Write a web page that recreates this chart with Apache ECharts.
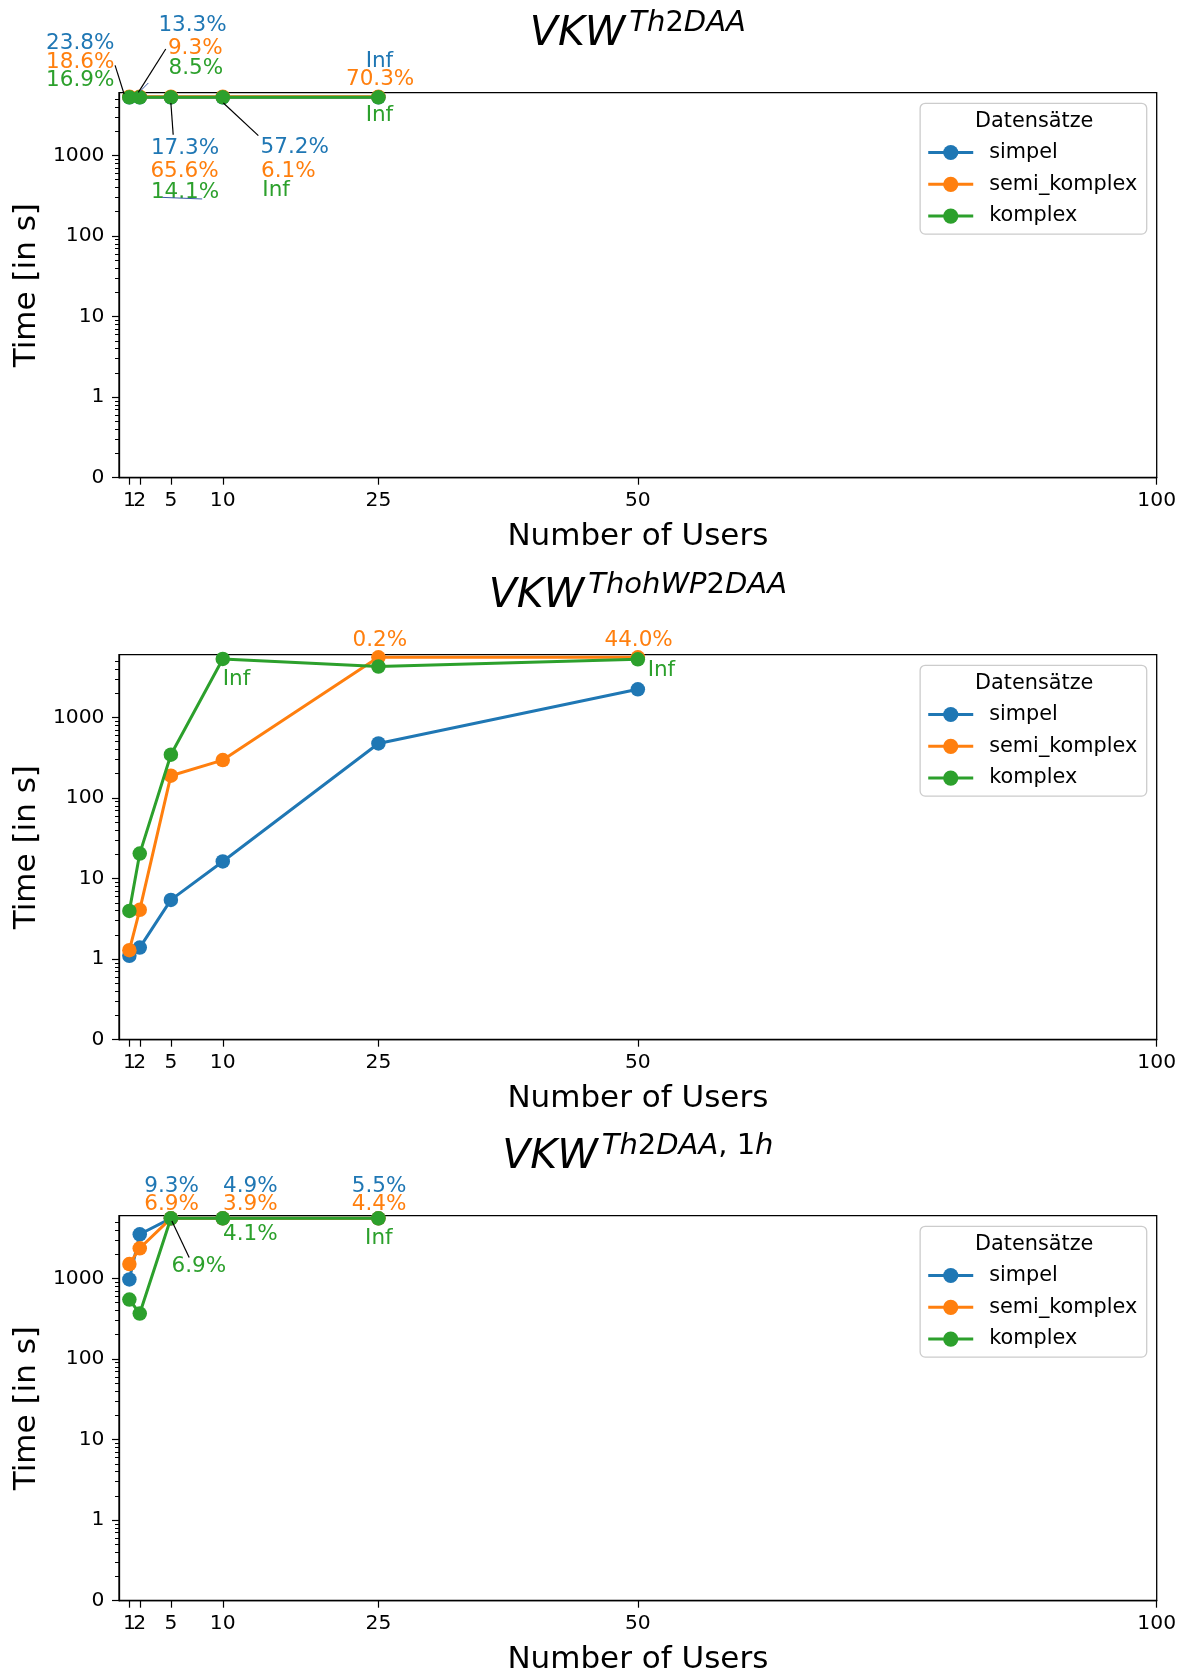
<!DOCTYPE html>
<html>
<head>
<meta charset="utf-8">
<title>VKW Laufzeiten</title>
<script src="https://cdn.jsdelivr.net/npm/echarts@6/dist/echarts.min.js"></script>
<style>
  html, body { margin: 0; padding: 0; background: #ffffff; }
  #chart { width: 1186px; height: 1672px; }
</style>
</head>
<body>
<div id="chart"></div>
<script>
// ---------- data ----------
const seriesNames = ['simpel', 'semi_komplex', 'komplex'];
const userTicks = [1, 2, 5, 10, 25, 50, 100];
const timeTickValues = [0, 1, 10, 100, 1000];
const timeTickLabels = ['0', '1', '10', '100', '1000'];

// VKW^Th2DAA
const th2daaUsers = [1, 2, 5, 10, 25];
const th2daaSimpel = [5250, 5250, 5250, 5250, 5250];
const th2daaSemi = [5350, 5350, 5350, 5350, 5350];
const th2daaKomplex = [5250, 5250, 5250, 5250, 5250];

// VKW^ThohWP2DAA
const thohUsers = [1, 2, 5, 10, 25, 50];
const thohSimpel = [1.10, 1.39, 5.43, 16.3, 475, 2230];
const thohSemi = [1.29, 4.09, 189, 295, 5560, 5560];
const thohKomplex = [3.97, 20.4, 344, 5310, 4270, 5250];

// VKW^Th2DAA,1h
const th1hUsers = [1, 2, 5, 10, 25];
const th1hSimpel = [972, 3530, 5570, 5570, 5570];
const th1hSemi = [1507, 2365, 5570, 5570, 5570];
const th1hKomplex = [547, 366, 5570, 5570, 5570];

const panelTitles = [['VKW', 'Th2DAA'], ['VKW', 'ThohWP2DAA'], ['VKW', 'Th2DAA, 1h']];

// progress notes: anchor series, user count, [text, series colour]
const th2daaNotes = [
  { series: 2, x: 1, items: [['23.8%', 0], ['18.6%', 1], ['16.9%', 2]] },
  { series: 2, x: 2, items: [['13.3%', 0], ['9.3%', 1], ['8.5%', 2]] },
  { series: 2, x: 5, items: [['17.3%', 0], ['65.6%', 1], ['14.1%', 2]] },
  { series: 2, x: 10, items: [['57.2%', 0], ['6.1%', 1], ['Inf', 2]] },
  { series: 2, x: 25, items: [['Inf', 0], ['70.3%', 1], ['Inf', 2]] }
];
const thohNotes = [
  { series: 2, x: 10, items: [['Inf', 2]] },
  { series: 1, x: 25, items: [['0.2%', 1]] },
  { series: 1, x: 50, items: [['44.0%', 1]] },
  { series: 2, x: 50, items: [['Inf', 2]] }
];
const th1hNotes = [
  { series: 2, x: 5, items: [['9.3%', 0], ['6.9%', 1], ['6.9%', 2]] },
  { series: 2, x: 10, items: [['4.9%', 0], ['3.9%', 1], ['4.1%', 2]] },
  { series: 2, x: 25, items: [['5.5%', 0], ['4.4%', 1], ['Inf', 2]] }
];

// ---------- layout / style ----------
const COLORS = ['#1f77b4', '#ff7f0e', '#2ca02c'];
const FONT = "'DejaVu Sans', 'Noto Sans', sans-serif";
const GRID_LEFT = 119, GRID_WIDTH = 1037.7, GRID_HEIGHT = 385;
const GRID_TOPS = [92.7, 654.7, 1215.7];
const CHART_W = 1186;
const NOTE_SIZE = 21.5;

// text placement of the notes, pixel offsets from the anchor point: [align, dx, dy]
const th2daaNoteLayout = [
  { items: [['right', -15, -54.4], ['right', -15, -35.4], ['right', -15, -17]],
    lines: [[-14.3, -32, -5.3, -3.4, '#000', 1.2]] },
  { items: [['center', 52.8, -71.9], ['center', 55.5, -48.9], ['center', 56.1, -29.4]],
    lines: [[26, -48.4, -1.4, -5, '#000', 1.2], [0.3, -6, 8.6, -14.4, '#3b5ba5', 1]] },
  { items: [['left', -20, 51.1], ['left', -20.5, 74.5], ['left', -20, 95.1]],
    lines: [[0, 5.6, 2.3, 37.3, '#000', 1.2], [-8.7, 100, 31.3, 101.6, '#3b5ba5', 1]] },
  { items: [['left', 37.8, 50.3], ['left', 38.3, 74.5], ['left', 39.6, 93]],
    lines: [[0.6, 5.6, 35.6, 38.3, '#000', 1.2]] },
  { items: [['center', 1, -36], ['center', 1.7, -17.7], ['center', 1, 18.3]], lines: [] }
];
const thohNoteLayout = [
  { items: [['left', 0, 20]], lines: [] },
  { items: [['center', 1.4, -16.7]], lines: [] },
  { items: [['center', 0.8, -16.7]], lines: [] },
  { items: [['left', 9.8, 10.6]], lines: [] }
];
const th1hNoteLayout = [
  { items: [['center', 0.7, -32.3], ['center', 0.7, -14], ['left', 0.7, 47.7]],
    lines: [[1, 2.7, 18.3, 39.3, '#000', 1.2]] },
  { items: [['left', 0.3, -32.3], ['left', 0.3, -13.8], ['left', 0.3, 16]], lines: [] },
  { items: [['center', 0.7, -32.3], ['center', 0.7, -13.8], ['center', 0.4, 19.8]], lines: [] }
];

// symmetric log transform: linear below 1 s, logarithmic above
function symlog(v) { return v <= 1 ? v : 1 + Math.log10(v); }
const TMAX = symlog(6000);

const panels = [
  { users: th2daaUsers, values: [th2daaSimpel, th2daaSemi, th2daaKomplex], notes: th2daaNotes, layout: th2daaNoteLayout },
  { users: thohUsers, values: [thohSimpel, thohSemi, thohKomplex], notes: thohNotes, layout: thohNoteLayout },
  { users: th1hUsers, values: [th1hSimpel, th1hSemi, th1hKomplex], notes: th1hNotes, layout: th1hNoteLayout }
];

const majorTicks = timeTickValues.map(symlog);
const minorTicks = [];
for (let d = 0; d < 5; d++) {
  for (let k = 2; k <= 9; k++) {
    const t = d + Math.log10(k);
    if (t < TMAX - 0.005) minorTicks.push(t);
  }
}
function timeLabel(t) {
  const i = majorTicks.findIndex(m => Math.abs(m - t) < 1e-6);
  return i >= 0 ? timeTickLabels[i] : '';
}
// the labels of 1 and 2 users touch each other, so they sit on two stacked axes
const userLabelsA = userTicks.filter((u, i) => i % 2 === 0 || u > 2);
const userLabelsB = userTicks.filter(u => userLabelsA.indexOf(u) < 0);

const grids = [], xAxes = [], yAxes = [], series = [], legends = [];
panels.forEach((p, g) => {
  grids.push({
    left: GRID_LEFT, top: GRID_TOPS[g], width: GRID_WIDTH, height: GRID_HEIGHT,
    show: true, borderColor: '#000', borderWidth: 1.3, backgroundColor: 'transparent',
    containLabel: false, outerBoundsMode: 'none'
  });
  const labelStyle = { fontSize: 20.3, fontFamily: FONT, color: '#000', margin: 13.3,
    hideOverlap: false, showMinLabel: true, showMaxLabel: true };
  xAxes.push({
    gridIndex: g, type: 'value', min: 0, max: 100,
    axisLine: { show: true, onZero: false, lineStyle: { color: '#000', width: 1.3 } },
    axisTick: { show: true, customValues: userTicks, length: 7, lineStyle: { color: '#000', width: 1.2 } },
    axisLabel: Object.assign({ customValues: userLabelsA }, labelStyle),
    splitLine: { show: false },
    name: 'Number of Users', nameLocation: 'middle', nameGap: 43.5, nameMoveOverlap: false,
    nameTextStyle: { fontSize: 31, fontFamily: FONT, color: '#000' }
  });
  xAxes.push({
    gridIndex: g, type: 'value', min: 0, max: 100, position: 'bottom',
    axisLine: { show: false, onZero: false },
    axisTick: { show: false },
    axisLabel: Object.assign({ customValues: userLabelsB }, labelStyle),
    splitLine: { show: false }
  });
  yAxes.push({
    gridIndex: g, type: 'value', min: 0, max: TMAX, position: 'left',
    axisLine: { show: true, onZero: false, lineStyle: { color: '#000', width: 1.3 } },
    axisTick: { show: true, customValues: majorTicks, length: 7, lineStyle: { color: '#000', width: 1.2 } },
    axisLabel: { customValues: majorTicks, formatter: timeLabel, fontSize: 20.3, fontFamily: FONT, color: '#000',
      margin: 14.5, showMinLabel: true, showMaxLabel: true, hideOverlap: false },
    splitLine: { show: false },
    name: 'Time [in s]', nameLocation: 'middle', nameGap: 77, nameMoveOverlap: false,
    nameTextStyle: { fontSize: 31, fontFamily: FONT, color: '#000' }
  });
  yAxes.push({
    gridIndex: g, type: 'value', min: 0, max: TMAX, position: 'left',
    axisLine: { show: false, onZero: false },
    axisTick: { show: true, customValues: minorTicks, length: 4, lineStyle: { color: '#000', width: 1 } },
    axisLabel: { show: false },
    splitLine: { show: false }
  });
  p.values.forEach((vals, s) => {
    series.push({
      type: 'line', name: seriesNames[s], xAxisIndex: 2 * g, yAxisIndex: 2 * g,
      data: p.users.map((u, i) => [u, symlog(vals[i])]),
      symbol: 'circle', symbolSize: 14.5, showSymbol: true,
      itemStyle: { color: COLORS[s] },
      lineStyle: { color: COLORS[s], width: 3 },
      emphasis: { disabled: true }, z: 2 + s
    });
  });
  legends.push({
    show: true, orient: 'vertical', right: 39.3, top: GRID_TOPS[g] + 10.6,
    data: seriesNames, selectedMode: false,
    itemWidth: 45, itemHeight: 19, itemGap: 10.8,
    padding: [38.7, 9.4, 7.5, 6.6],
    lineStyle: { width: 3 },
    textStyle: { fontSize: 20.8, fontFamily: FONT, color: '#000', padding: [0, 0, 0, 11] },
    backgroundColor: 'rgba(255,255,255,0.8)', borderColor: '#cccccc', borderWidth: 1.3, borderRadius: 5
  });
});

const chart = echarts.init(document.getElementById('chart'), null, { renderer: 'canvas' });
chart.setOption({
  backgroundColor: '#ffffff',
  animation: false,
  grid: grids, xAxis: xAxes, yAxis: yAxes, series: series, legend: legends
});

// ---------- titles, legend headings and notes ----------
const measureCtx = document.createElement('canvas').getContext('2d');
function textWidth(str, size, style) {
  measureCtx.font = style + ' ' + size + 'px "DejaVu Sans"';
  return measureCtx.measureText(str).width;
}
function supRuns(str) {
  // letters in italic (math variables), digits and punctuation upright
  const runs = [];
  for (const ch of str) {
    const kind = /[A-Za-z]/.test(ch) ? 'i' : 'r';
    if (runs.length && runs[runs.length - 1].kind === kind) runs[runs.length - 1].text += ch;
    else runs.push({ kind, text: ch });
  }
  return runs;
}

const MAIN_SIZE = 41, SUP_SIZE = 29, MID = 0.35;
const gfx = [];
panels.forEach((p, g) => {
  const top = GRID_TOPS[g];
  const cx = GRID_LEFT + GRID_WIDTH / 2;
  const [mainTxt, supTxt] = panelTitles[g];
  const runs = supRuns(supTxt);
  const wMain = textWidth(mainTxt, MAIN_SIZE, 'italic');
  const wSup = runs.reduce((a, r) => a + textWidth(r.text, SUP_SIZE, r.kind === 'i' ? 'italic' : 'normal'), 0);
  const gap = 4;
  const left = cx - (wMain + gap + wSup) / 2;
  const baseMain = top - 44.4, baseSup = top - 59.4;
  gfx.push({
    type: 'text', x: left, y: baseMain - MID * MAIN_SIZE, z: 100, silent: true,
    style: { text: mainTxt, fill: '#000', fontSize: MAIN_SIZE, fontStyle: 'italic', fontFamily: FONT,
      align: 'left', verticalAlign: 'middle', textAlign: 'left', textVerticalAlign: 'middle' }
  });
  gfx.push({
    type: 'text', x: left + wMain + gap, y: baseSup - MID * SUP_SIZE, z: 100, silent: true,
    style: {
      text: runs.map(r => '{' + r.kind + '|' + r.text + '}').join(''),
      rich: {
        i: { fontSize: SUP_SIZE, fontStyle: 'italic', fontFamily: FONT, fill: '#000', color: '#000' },
        r: { fontSize: SUP_SIZE, fontStyle: 'normal', fontFamily: FONT, fill: '#000', color: '#000' }
      },
      fill: '#000', align: 'left', verticalAlign: 'middle', textAlign: 'left', textVerticalAlign: 'middle'
    }
  });
  // legend heading
  gfx.push({
    type: 'text', x: CHART_W - 39.3 - 112.5, y: top + 10.6 + 18.4, z: 200, silent: true,
    style: { text: 'Datensätze', fill: '#000', fontSize: 20.8, fontFamily: FONT,
      align: 'center', verticalAlign: 'middle', textAlign: 'center', textVerticalAlign: 'middle' }
  });
  // notes next to the points
  p.notes.forEach((n, k) => {
    const lay = p.layout[k];
    const v = p.values[n.series][p.users.indexOf(n.x)];
    const [px, py] = chart.convertToPixel({ xAxisIndex: 2 * g, yAxisIndex: 2 * g }, [n.x, symlog(v)]);
    n.items.forEach((it, j) => {
      const [align, dx, dy] = lay.items[j];
      gfx.push({
        type: 'text', x: px + dx, y: py + dy, z: 100, silent: true,
        style: { text: it[0], fill: COLORS[it[1]], fontSize: NOTE_SIZE, fontFamily: FONT,
          align: align, verticalAlign: 'middle', textAlign: align, textVerticalAlign: 'middle' }
      });
    });
    lay.lines.forEach(l => {
      gfx.push({
        type: 'line', z: 100, silent: true,
        shape: { x1: px + l[0], y1: py + l[1], x2: px + l[2], y2: py + l[3] },
        style: { stroke: l[4], lineWidth: l[5] }
      });
    });
  });
});
chart.setOption({ graphic: gfx });
</script>
</body>
</html>
